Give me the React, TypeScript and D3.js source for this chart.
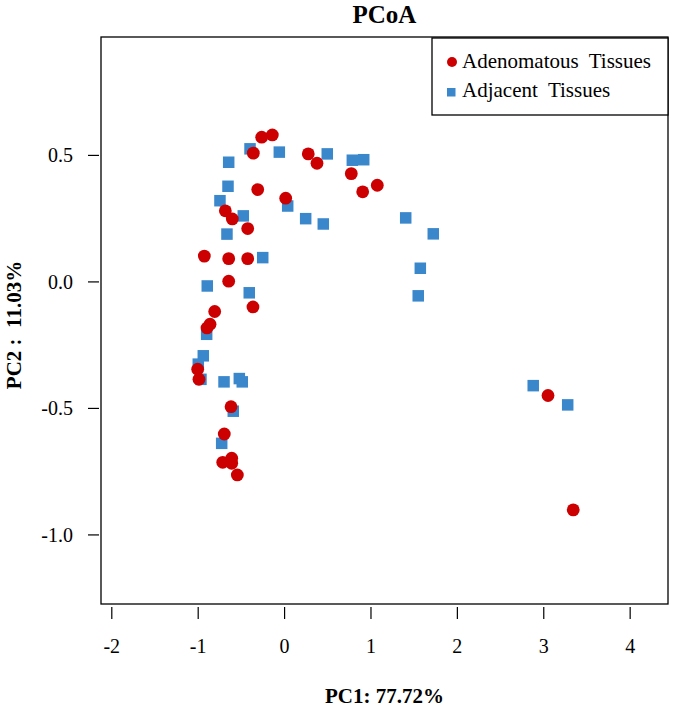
import React from "react";
import * as d3 from "d3";

const adenoX = [-0.265, -0.142, -0.362, 0.274, 0.375, 0.772, 0.904, 1.073, -0.311, 0.013, -0.686, -0.605, -0.427, -0.929, -0.647, -0.427, -0.647, -0.809, -0.366, -0.863, -0.898, -1.006, -0.991, -0.62, -0.698, -0.716, -0.612, -0.612, -0.547, 3.049, 3.341];
const adenoY = [0.572, 0.581, 0.509, 0.506, 0.469, 0.428, 0.356, 0.382, 0.365, 0.331, 0.281, 0.249, 0.211, 0.102, 0.092, 0.092, 0.003, -0.117, -0.099, -0.167, -0.182, -0.345, -0.385, -0.493, -0.601, -0.713, -0.697, -0.717, -0.763, -0.449, -0.901];
const adjX = [-0.4, -0.647, -0.061, 0.494, 0.784, 0.916, -0.655, -0.748, 0.036, -0.478, 0.244, 0.448, -0.667, -0.253, -0.895, -0.409, -0.902, -0.941, -0.999, -0.968, -0.701, -0.524, -0.49, -0.594, -0.728, 1.402, 1.721, 1.571, 1.547, 2.878, 3.277];
const adjY = [0.526, 0.473, 0.513, 0.506, 0.481, 0.483, 0.378, 0.321, 0.3, 0.261, 0.25, 0.229, 0.189, 0.096, -0.016, -0.043, -0.207, -0.292, -0.325, -0.385, -0.395, -0.382, -0.395, -0.511, -0.638, 0.253, 0.19, 0.054, -0.055, -0.41, -0.486];
const xTicks = [-2, -1, 0, 1, 2, 3, 4];
const yTicks = [0.5, 0.0, -0.5, -1.0];
const xDomain = [-2.125, 4.438];
const yDomain = [-1.273, 0.968];
const legendLabels = ["Adenomatous  Tissues", "Adjacent  Tissues"];

const W = 675, H = 709;
const L = 101, R = 668, T = 37, B = 604;
const RED = "#CC0000";
const BLUE = "#3A87CC";
const FONT = "'Liberation Serif', 'Times New Roman', serif";

export default function App() {
  const x = d3.scaleLinear().domain(xDomain).range([L, R]);
  const y = d3.scaleLinear().domain(yDomain).range([B, T]);
  const sq = 11.5;
  return (
    <svg width={W} height={H} style={{ position: "absolute", left: 0, top: 0, background: "#fff" }} fontFamily={FONT}>
      <rect x={0} y={0} width={W} height={H} fill="#fff" />
      <text x={(L + R) / 2} y={23} textAnchor="middle" fontSize={25} fontWeight="bold">PCoA</text>
      {adjX.map((v, i) => (
        <rect key={"b" + i} x={x(v) - sq / 2} y={y(adjY[i]) - sq / 2} width={sq} height={sq} fill={BLUE} />
      ))}
      {adenoX.map((v, i) => (
        <circle key={"r" + i} cx={x(v)} cy={y(adenoY[i])} r={6.4} fill={RED} />
      ))}
      <rect x={L} y={T} width={R - L} height={B - T} fill="none" stroke="#000" strokeWidth={1.3} />
      {xTicks.map((t) => (
        <g key={"xt" + t}>
          <line x1={x(t)} x2={x(t)} y1={607} y2={619} stroke="#000" strokeWidth={1.2} />
          <text x={x(t)} y={653} textAnchor="middle" fontSize={20}>{String(t)}</text>
        </g>
      ))}
      {yTicks.map((t) => (
        <g key={"yt" + t}>
          <line x1={88} x2={99} y1={y(t)} y2={y(t)} stroke="#000" strokeWidth={1.2} />
          <text x={73} y={y(t) + 7} textAnchor="end" fontSize={20}>{t.toFixed(1)}</text>
        </g>
      ))}
      <text x={(L + R) / 2} y={703} textAnchor="middle" fontSize={21} fontWeight="bold">PC1: 77.72%</text>
      <text transform={`translate(21,325) rotate(-90)`} textAnchor="middle" fontSize={21} fontWeight="bold" style={{ whiteSpace: "pre" }}>PC2 :  11.03%</text>
      <rect x={432} y={T + 1} width={R - 432} height={77} fill="#fff" stroke="#000" strokeWidth={1.3} />
      <circle cx={452} cy={62} r={5} fill={RED} />
      <text x={462} y={68} fontSize={21} style={{ whiteSpace: "pre" }}>{legendLabels[0]}</text>
      <rect x={447} y={88} width={8.5} height={8.5} fill={BLUE} />
      <text x={462} y={97} fontSize={21} style={{ whiteSpace: "pre" }}>{legendLabels[1]}</text>
    </svg>
  );
}
